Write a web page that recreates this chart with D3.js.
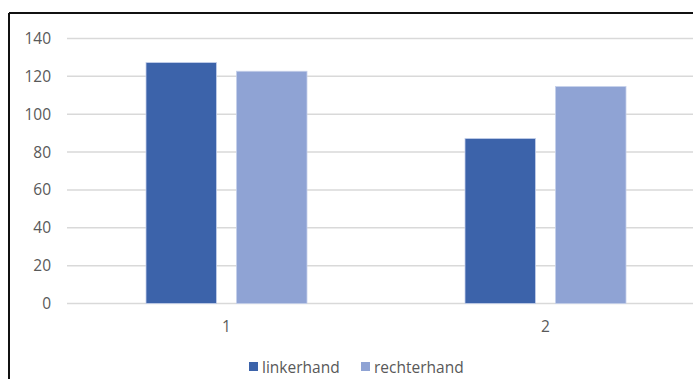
<!DOCTYPE html>
<meta charset="utf-8">
<style>
  body { margin: 0; background: #fff; }
  text { font-family: "Open Sans", "Noto Sans", sans-serif; fill: #595959; }
</style>
<svg width="693" height="379"></svg>
<script src="https://d3js.org/d3.v7.min.js"></script>
<script>
  // data
  var categories = ['1', '2'];
  var seriesNames = ['linkerhand', 'rechterhand'];
  var linkerhand = [127.3, 87.2];
  var rechterhand = [122.7, 114.6];
  var yTicks = [0, 20, 40, 60, 80, 100, 120, 140];
  var colors = ['#3c63aa', '#8fa3d4'];

  var svg = d3.select('svg');

  // frame of the chart (right and bottom sides are cropped off)
  svg.append('line').attr('x1', 9).attr('y1', 13).attr('x2', 693).attr('y2', 13)
    .attr('stroke', '#111').attr('stroke-width', 2);
  svg.append('line').attr('x1', 9).attr('y1', 13).attr('x2', 9).attr('y2', 379)
    .attr('stroke', '#111').attr('stroke-width', 2);

  var plotLeft = 67, plotRight = 705;
  var x = d3.scaleBand().domain(categories).range([plotLeft, plotRight])
    .paddingInner(0).paddingOuter(0);
  var xSeries = d3.scaleBand().domain(seriesNames)
    .range([0, 161]).paddingInner(0.221).paddingOuter(0);
  var y = d3.scaleLinear().domain([0, 140]).range([303.5, 38.5]);

  // gridlines
  svg.append('g').selectAll('line').data(yTicks).enter().append('line')
    .attr('x1', plotLeft).attr('x2', 693)
    .attr('y1', d => y(d)).attr('y2', d => y(d))
    .attr('stroke', '#d9d9d9').attr('stroke-width', 1.5);

  // y tick labels
  svg.append('g').selectAll('text').data(yTicks).enter().append('text')
    .attr('x', 51).attr('y', d => y(d) + 5.5)
    .attr('text-anchor', 'end').attr('font-size', 15.5)
    .text(d => d);

  // bars
  var rows = categories.map((c, i) => ({ cat: c, vals: [linkerhand[i], rechterhand[i]] }));
  var groups = svg.append('g').selectAll('g').data(rows).enter().append('g')
    .attr('transform', d => 'translate(' + (x(d.cat) + x.bandwidth() / 2 - 80.5) + ',0)');
  groups.selectAll('rect').data(d => d.vals.map((v, j) => ({ name: seriesNames[j], v: v, j: j })))
    .enter().append('rect')
    .attr('x', d => xSeries(d.name))
    .attr('width', xSeries.bandwidth())
    .attr('y', d => y(d.v))
    .attr('height', d => y(0) - y(d.v))
    .attr('fill', d => colors[d.j])
    .attr('stroke', '#c5d0ea').attr('stroke-width', 0.8);

  // x labels
  svg.append('g').selectAll('text').data(categories).enter().append('text')
    .attr('x', d => x(d) + x.bandwidth() / 2)
    .attr('y', 332).attr('text-anchor', 'middle').attr('font-size', 15.5)
    .text(d => d);

  // legend
  var legendX = [249, 361];
  var leg = svg.append('g').selectAll('g').data(seriesNames).enter().append('g')
    .attr('transform', (d, i) => 'translate(' + legendX[i] + ',362)');
  leg.append('rect').attr('width', 9).attr('height', 9)
    .attr('fill', (d, i) => colors[i]);
  leg.append('text').attr('x', 13).attr('y', 10.5).attr('font-size', 15.5)
    .text(d => d);
</script>
